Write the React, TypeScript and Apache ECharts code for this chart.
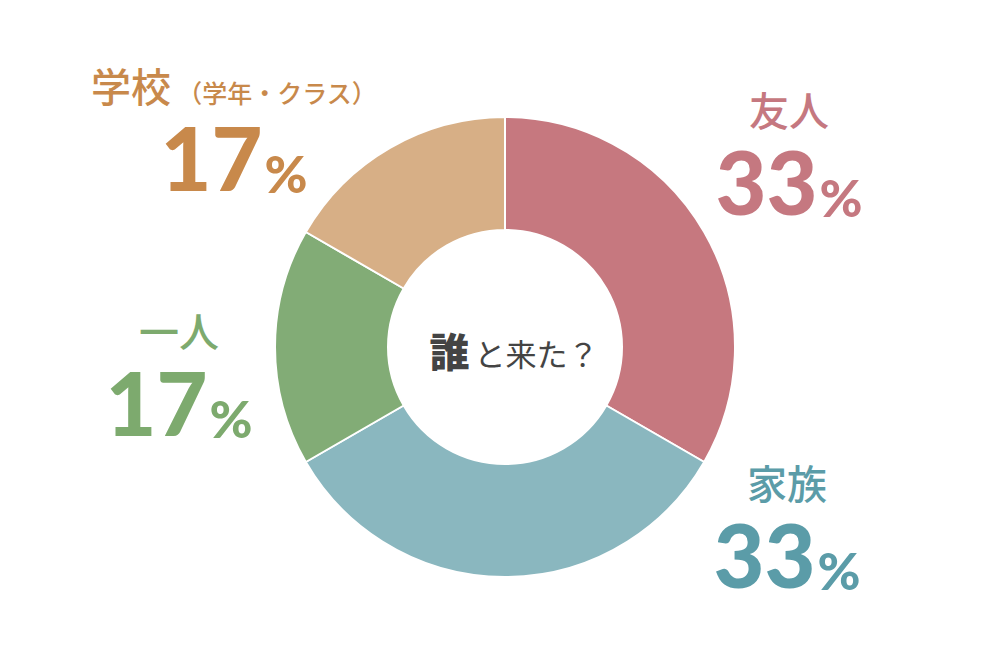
import React, { useRef, useEffect } from 'react';
import * as echarts from 'echarts';

const names = ['友人', '家族', '一人', '学校'];
const subNames = ['', '', '', '（学年・クラス）'];
const values = [2, 2, 1, 1];
const sliceColors = ['#C6787F', '#8AB7BF', '#82AC76', '#D7AF86'];
const labelColors = ['#C57880', '#5B9CA8', '#7DAA6E', '#C8894B'];
// label block centres (x, y)
const labelPos = [
  [789, 157],
  [787, 530],
  [179, 378],
  [234, 133],
];

const App: React.FC = () => {
  const chartRef = useRef<HTMLDivElement>(null);

  useEffect(() => {
    document.body.style.margin = '0';
    if (!chartRef.current) return;
    const myChart = echarts.init(chartRef.current, null, { renderer: 'svg' });
    const total = values.reduce((a, b) => a + b, 0);

    const option: echarts.EChartsOption = {
      animation: false,
      backgroundColor: '#ffffff',
      graphic: [
        {
          type: 'text',
          x: 514,
          y: 350,
          style: {
            text: '{b|誰}{r|と来た？}',
            align: 'center',
            verticalAlign: 'middle',
            rich: {
              b: { fontSize: 40, fontWeight: 900, fill: '#444444', fontFamily: 'Noto Sans CJK JP', verticalAlign: 'bottom', padding: [0, 5, 0, 0] },
              r: { fontSize: 31, fontWeight: 400, fill: '#444444', fontFamily: 'Noto Sans CJK JP', verticalAlign: 'bottom', padding: [0, 0, 2, 0] },
            },
          } as any,
        },
      ],
      series: [
        {
          type: 'pie',
          center: [505, 347],
          radius: [117, 230],
          startAngle: 90,
          clockwise: true,
          itemStyle: { borderColor: '#ffffff', borderWidth: 2 },
          labelLine: { show: false },
          emphasis: { disabled: true },
          data: names.map((n, i) => {
            const pct = Math.round((values[i] / total) * 100);
            const c = labelColors[i];
            return {
              name: n,
              value: values[i],
              itemStyle: { color: sliceColors[i] },
              label: {
                show: true,
                position: 'outside',
                formatter: `{name|${n}}${subNames[i] ? `{sub|${subNames[i]}}` : ''}\n{num|${pct}}{pct|%}`,
                rich: {
                  name: { fontSize: 40, fontWeight: 500, color: c, fontFamily: 'Noto Sans CJK JP', lineHeight: 50, verticalAlign: 'bottom', padding: [0, 0, 10, 0] },
                  sub: { fontSize: 25, fontWeight: 500, color: c, fontFamily: 'Noto Sans CJK JP', lineHeight: 50, verticalAlign: 'bottom', padding: [0, 0, 11, 6] },
                  num: { fontSize: 88, fontWeight: 900, color: c, fontFamily: 'Lato', lineHeight: 86, verticalAlign: 'bottom' },
                  pct: { fontSize: 52, fontWeight: 900, color: c, fontFamily: 'Lato', lineHeight: 86, verticalAlign: 'bottom', padding: [0, 0, 2, 2] },
                },
              },
            };
          }),
          labelLayout: (params: any) => ({
            x: labelPos[params.dataIndex][0],
            y: labelPos[params.dataIndex][1],
            align: 'center',
            verticalAlign: 'middle',
          }),
        },
      ],
    };

    myChart.setOption(option);
    const handleResize = () => myChart.resize();
    window.addEventListener('resize', handleResize);
    return () => {
      window.removeEventListener('resize', handleResize);
      myChart.dispose();
    };
  }, []);

  return <div ref={chartRef} style={{ width: '1000px', height: '667px' }} />;
};

export default App;
